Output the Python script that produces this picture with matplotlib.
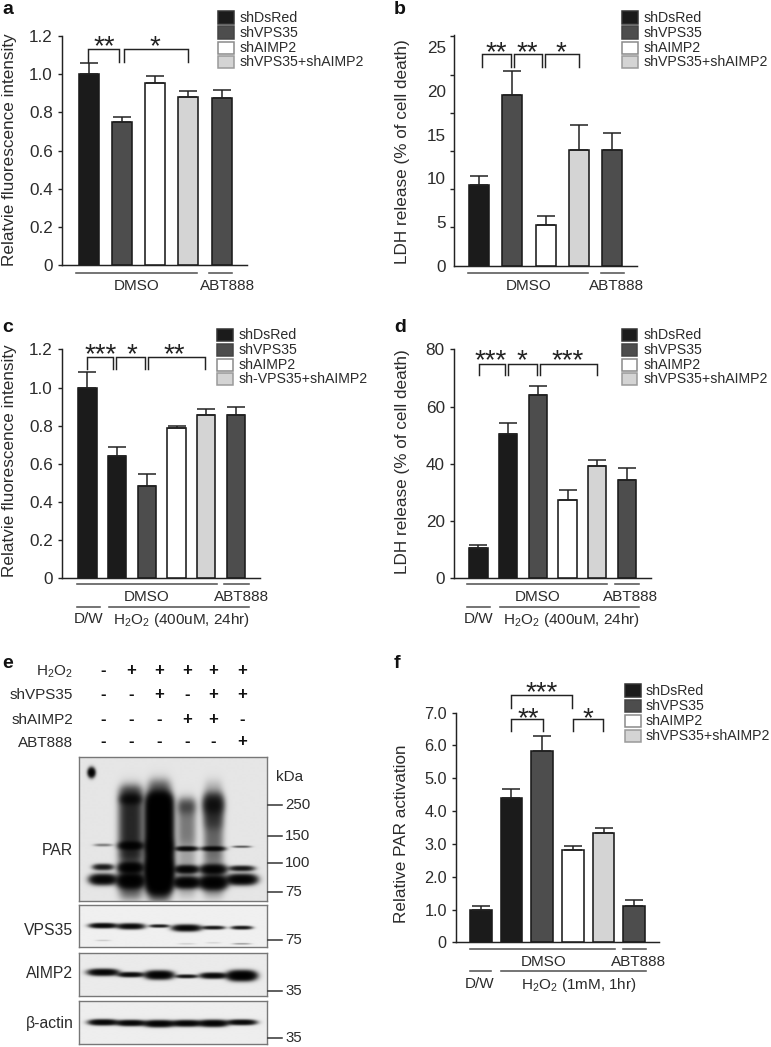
import numpy as np
import matplotlib
matplotlib.use("Agg")
import matplotlib.pyplot as plt
from matplotlib.patches import Rectangle

plt.rcParams['font.family'] = ['Liberation Sans', 'DejaVu Sans']
plt.rcParams['mathtext.fontset'] = 'custom'
plt.rcParams['mathtext.rm'] = 'Liberation Sans'
plt.rcParams['mathtext.default'] = 'regular'

W, H = 771, 1047
INK = '#2b2b2b'
BLACK, DARK, WHITE, LIGHT = '#1b1b1b', '#4d4d4d', '#ffffff', '#d4d4d4'

# ---- data -------------------------------------------------------------
a_vals = [1.00, 0.752, 0.952, 0.883, 0.876]
a_errs = [0.057, 0.026, 0.038, 0.031, 0.041]
a_cols = [BLACK, DARK, WHITE, LIGHT, DARK]

b_vals = [9.2, 19.5, 4.6, 13.3, 13.3]
b_errs = [1.05, 2.75, 1.1, 2.85, 1.9]
b_cols = [BLACK, DARK, WHITE, LIGHT, DARK]

c_vals = [1.00, 0.643, 0.486, 0.786, 0.856, 0.856]
c_errs = [0.083, 0.043, 0.061, 0.012, 0.031, 0.040]
c_cols = [BLACK, BLACK, DARK, WHITE, LIGHT, DARK]

d_vals = [10.5, 50.3, 64.2, 27.5, 39.2, 34.2]
d_errs = [1.3, 4.1, 3.1, 3.3, 2.0, 4.2]
d_cols = [BLACK, BLACK, DARK, WHITE, LIGHT, DARK]

f_vals = [1.00, 4.39, 5.83, 2.81, 3.34, 1.12]
f_errs = [0.10, 0.28, 0.46, 0.13, 0.16, 0.18]
f_cols = [BLACK, BLACK, DARK, WHITE, LIGHT, DARK]

a_ticks = [0, 0.2, 0.4, 0.6, 0.8, 1.0, 1.2]
a_ticklabels = ['0', '0.2', '0.4', '0.6', '0.8', '1.0', '1.2']
b_ticks = [0, 5, 10, 15, 20, 25]
b_ticklabels = ['0', '5', '10', '15', '20', '25']
d_ticks = [0, 20, 40, 60, 80]
d_ticklabels = ['0', '20', '40', '60', '80']
f_ticks = [0, 1, 2, 3, 4, 5, 6, 7]
f_ticklabels = ['0', '1.0', '2.0', '3.0', '4.0', '5.0', '6.0', '7.0']

legend_std = ['shDsRed', 'shVPS35', 'shAIMP2', 'shVPS35+shAIMP2']
legend_c = ['shDsRed', 'shVPS35', 'shAIMP2', 'sh-VPS35+shAIMP2']

blot_rows = ['H$_2$O$_2$', 'shVPS35', 'shAIMP2', 'ABT888']
blot_signs = [list('-+++++'), list('--+-++'), list('---++-'), list('-----+')]
blot_names = ['PAR', 'VPS35', 'AIMP2', 'β-actin']
kda_labels = ['250', '150', '100', '75', '75', '35', '35']

# blot bands: lane, y centre, half width, half height, density (3x zoom scale)
lanes = [310, 393, 478, 560, 640, 725]
par_bands = [
    (0, 615, 26, 4, .22), (0, 681, 28, 8, .75), (0, 718, 36, 13, 1.3),
    (1, 617, 33, 10, 1.0), (1, 683, 33, 13, 1.3), (1, 722, 36, 18, 1.5), (1, 478, 30, 14, .5),
    (2, 620, 36, 20, .6), (2, 690, 36, 30, 1.0),
    (3, 626, 30, 6, 1.0), (3, 688, 32, 10, 1.2), (3, 727, 36, 14, 1.4), (3, 500, 26, 22, .2),
    (4, 626, 32, 6, .9), (4, 688, 35, 12, 1.2), (4, 727, 37, 17, 1.5), (4, 495, 30, 25, .4),
    (5, 620, 26, 3, .35), (5, 685, 34, 7, .8), (5, 718, 40, 13, 1.4),
]
par_smears = [
    (1, 445, 650, 33, .62), (1, 640, 770, 34, .35),
    (2, 470, 750, 34, 2.6), (2, 425, 480, 33, .32), (2, 750, 778, 32, .28),
    (3, 480, 610, 27, .22), (3, 610, 765, 28, .12),
    (4, 465, 560, 28, .55), (4, 560, 650, 28, .28), (4, 425, 470, 27, .08), (4, 650, 765, 30, .2),
]
spot = (275, 398, 9, 12, 1.5)
vps_bands = [(0, 859, 36, 6, 1.2), (1, 861, 36, 7, 1.1), (2, 860, 26, 4, .8),
             (3, 866, 38, 8, 1.2), (4, 865, 30, 4.5, .85), (5, 865, 28, 4.5, .85),
             (0, 903, 22, 2, .07), (3, 913, 25, 2, .06), (4, 910, 22, 2, .05), (5, 913, 26, 2, .18)]
aimp_bands = [(0, 998, 40, 8, 1.3), (1, 1005, 34, 6, 1.1), (2, 1006, 37, 10, 1.5),
              (3, 1010, 29, 4.5, .9), (4, 1008, 35, 7, 1.2), (5, 1008, 38, 12, 1.7)]
actin_bands = [(0, 1148, 38, 7, 1.3), (1, 1150, 38, 7, 1.3), (2, 1152, 40, 8, 1.4),
               (3, 1151, 38, 7.5, 1.3), (4, 1151, 38, 8, 1.4), (5, 1148, 38, 6.5, 1.2)]

# -----------------------------------------------------------------------
fig = plt.figure(figsize=(W / 100, H / 100), dpi=100)
fig.patch.set_facecolor('white')


def make_ax(x0, y_top, x1, y_bot):
    return fig.add_axes([x0 / W, 1 - y_bot / H, (x1 - x0) / W, (y_bot - y_top) / H])


def panel(vals, errs, cols, ox, oy, yaxis, right, top, base, c0, dx, bw, ymax,
          ticks, ticklabels, capz, minor=None, tick_fs=12.3):
    """Geometry numbers are 3x-zoom pixels, relative to crop origin (ox, oy)."""
    x0, x1 = ox + yaxis / 3, ox + right / 3
    yt, yb = oy + top / 3, oy + base / 3
    ax = make_ax(x0, yt, x1, yb)
    ax.patch.set_alpha(0)
    ax.set_ylim(0, ymax)
    ax.set_xlim((yaxis - c0) / dx, (right - c0) / dx)
    xs = np.arange(len(vals))
    ax.bar(xs, vals, width=bw / dx, color=cols, edgecolor='#1a1a1a', linewidth=1.15,
           yerr=[np.zeros(len(vals)), errs],
           error_kw=dict(ecolor='#222222', elinewidth=1.1, capsize=capz, capthick=1.1), zorder=3)
    for s in ('top', 'right'):
        ax.spines[s].set_visible(False)
    for s in ('left', 'bottom'):
        ax.spines[s].set_linewidth(1.05)
        ax.spines[s].set_color('#222222')
    ax.set_xticks([])
    ax.set_yticks(ticks)
    ax.set_yticklabels(ticklabels, fontsize=tick_fs, color=INK)
    ax.tick_params(axis='y', length=2.6 if minor is None else 0, width=1.0, pad=4 if minor is None else 6,
                   color='#222222')
    if minor is not None:
        ax.set_yticks(minor, minor=True)
        ax.tick_params(axis='y', which='minor', length=2.6, width=1.0, color='#222222')
    return ax


panel(a_vals, a_errs, a_cols, 0, 0, 186, 742, 108, 796, 266, 99.8, 60, 1.2, a_ticks, a_ticklabels, 6.2)
b_minor = list(np.arange(0, 6) * 114.6 / 131 * 5) + [26.3]
panel(b_vals, b_errs, b_cols, 385, 0, 207, 757, 105, 797, 282, 99.8, 60, 26.41, b_ticks, b_ticklabels, 6.2, b_minor)
panel(c_vals, c_errs, c_cols, 0, 315, 186, 780, 103, 790, 262, 89.2, 55, 1.2, a_ticks, a_ticklabels, 6.2)
panel(d_vals, d_errs, d_cols, 385, 315, 207, 797, 103, 790, 280, 89.2, 55, 80, d_ticks, d_ticklabels, 6.2)
panel(f_vals, f_errs, f_cols, 400, 660, 168, 778, 158, 847, 242, 92.2, 65, 7.0, f_ticks, f_ticklabels, 6.2, tick_fs=11.7)

# ---- western blot ------------------------------------------------------
def blot(y0, y1, bands, smears=(), extra=None, bg=0.925):
    x_lo, x_hi = 238, 800
    ax = make_ax(x_lo / 3, 640 + y0 / 3, x_hi / 3, 640 + y1 / 3)
    xx, yy = np.meshgrid(np.arange(x_lo, x_hi + 1.0), np.arange(y0, y1 + 1.0))
    dens = np.zeros_like(xx)
    for lane, cy, wx, sy, amp in bands:
        cx = lanes[lane]
        dens += amp * np.exp(-(np.abs(xx - cx) / wx) ** 3) * np.exp(-((yy - cy) / sy) ** 2)
    for lane, ya, yb, wx, amp in smears:
        cx = lanes[lane]
        mask = 1 / (1 + np.exp((ya - yy) / 9)) * 1 / (1 + np.exp((yy - yb) / 9))
        dens += amp * np.exp(-(np.abs(xx - cx) / wx) ** 3) * mask
    if extra is not None:
        cx, cy, rx, ry, amp = extra
        dens += amp * np.exp(-((xx - cx) / rx) ** 2 - ((yy - cy) / ry) ** 2)
    img = bg * np.exp(-2.9 * dens)
    ax.imshow(img, cmap='gray', vmin=0, vmax=1, extent=(x_lo, x_hi, y1, y0), aspect='auto',
              interpolation='bilinear')
    ax.set_xticks([])
    ax.set_yticks([])
    for s in ax.spines.values():
        s.set_color('#777777')
        s.set_linewidth(1.0)


blot(352, 782, par_bands, par_smears, spot, bg=0.90)
blot(795, 922, vps_bands, bg=0.94)
blot(938, 1068, aimp_bands, bg=0.92)
blot(1082, 1212, actin_bands, bg=0.93)

# ---- overlay for annotation, in image pixels ----------------------------
ov = fig.add_axes([0, 0, 1, 1], zorder=10)
ov.set_xlim(0, W)
ov.set_ylim(H, 0)
ov.axis('off')
ov.patch.set_alpha(0)


def Z(ox, oy, x, y):
    return ox + x / 3, oy + y / 3


def bracket(ox, oy, xa, xb, top, bottom, stars, sx, sy):
    (x1, y1), (x2, y2) = Z(ox, oy, xa, top), Z(ox, oy, xb, bottom)
    ov.plot([x1, x1, x2, x2], [y2, y1, y1, y2], color='#222222', lw=1.05, solid_joinstyle='miter')
    px, py = Z(ox, oy, sx, sy)
    ov.text(px, py + 5.5, stars, ha='center', va='center', fontsize=20, color='#222222')


def hline(ox, oy, xa, xb, y):
    (x1, yy), (x2, _) = Z(ox, oy, xa, y), Z(ox, oy, xb, y)
    ov.plot([x1, x2], [yy, yy], color='#555555', lw=1.15)


def label(ox, oy, x, y, s, fs=11, **kw):
    px, py = Z(ox, oy, x, y)
    kw.setdefault('ha', 'center')
    kw.setdefault('va', 'center')
    ov.text(px, py, s, fontsize=fs, color=INK, **kw)


def legend(ox, oy, x0, x1, rows, tx, texts):
    cols = [BLACK, DARK, WHITE, LIGHT]
    edges = ['#333333', '#444444', '#8a8a8a', '#9a9a9a']
    for (ya, yb), c, e, t in zip(rows, cols, edges, texts):
        ov.add_patch(Rectangle(Z(ox, oy, x0, ya), (x1 - x0) / 3, (yb - ya) / 3,
                               facecolor=c, edgecolor=e, lw=1.1))
        label(ox, oy, tx, (ya + yb) / 2, t, fs=10.2, ha='left')


rows_ab = [(33, 72), (79, 118), (125, 161), (168, 204)]
rows_cd = [(41, 79), (86, 124), (131, 167), (174, 211)]
rows_f = [(73, 111), (119, 155), (164, 201), (209, 245)]
legend(0, 0, 655, 702, rows_ab, 720, legend_std)
legend(385, 0, 712, 758, rows_ab, 776, legend_std)
legend(0, 315, 650, 698, rows_cd, 715, legend_c)
legend(385, 315, 710, 757, rows_cd, 776, legend_std)
legend(400, 660, 675, 722, rows_f, 738, legend_std)

# brackets
bracket(0, 0, 265, 357, 146, 185, '**', 312, 125)
bracket(0, 0, 372, 565, 146, 185, '*', 466, 125)
bracket(385, 0, 290, 378, 163, 200, '**', 333, 143)
bracket(385, 0, 386, 472, 163, 200, '**', 426, 143)
bracket(385, 0, 481, 582, 163, 200, '*', 529, 143)
bracket(0, 315, 261, 340, 127, 162, '***', 302, 105)
bracket(0, 315, 349, 436, 127, 162, '*', 396, 105)
bracket(0, 315, 444, 615, 127, 162, '**', 523, 105)
bracket(385, 315, 281, 361, 146, 181, '***', 318, 123)
bracket(385, 315, 369, 455, 146, 181, '*', 412, 123)
bracket(385, 315, 466, 637, 146, 181, '***', 548, 123)
bracket(400, 660, 333, 515, 104, 143, '***', 425, 83)
bracket(400, 660, 333, 428, 177, 213, '**', 384, 160)
bracket(400, 660, 518, 610, 177, 213, '*', 564, 160)

# group lines and labels
for ox, oy, segs, y, dm, ab, ly in [
    (0, 0, [(228, 590), (627, 697)], 818, 411, 682, 858),
    (385, 0, [(248, 610), (648, 718)], 818, 430, 694, 858),
    (0, 315, [(230, 650), (673, 748)], 808, 440, 725, 846),
    (385, 315, [(245, 665), (690, 763)], 808, 457, 737, 846),
    (400, 660, [(210, 645), (670, 738)], 867, 430, 715, 905),
]:
    for s in segs:
        hline(ox, oy, s[0], s[1], y)
    label(ox, oy, dm, ly, 'DMSO')
    label(ox, oy, ab, ly, 'ABT888')

for ox, oy, segs, y, dw, hx, ly, txt in [
    (0, 315, [(230, 300), (328, 748)], 875, 265, 543, 912, 'H$_2$O$_2$ (400uM, 24hr)'),
    (385, 315, [(245, 315), (345, 763)], 875, 282, 558, 912, 'H$_2$O$_2$ (400uM, 24hr)'),
    (400, 660, [(210, 273), (303, 738)], 933, 240, 538, 972, 'H$_2$O$_2$ (1mM, 1hr)'),
]:
    for s in segs:
        hline(ox, oy, s[0], s[1], y)
    label(ox, oy, dw, ly, 'D/W')
    label(ox, oy, hx, ly + 2, txt)

# y labels
for x, y, t in [(10, 150, 'Relatvie fluorescence intensity'), (403, 152, 'LDH release (% of cell death)'),
                (10, 461, 'Relatvie fluorescence intensity'), (403, 462, 'LDH release (% of cell death)'),
                (401, 834, 'Relative PAR activation')]:
    ov.text(x, y, t, rotation=90, ha='center', va='center', fontsize=12.3, color=INK)

# panel letters
for x, y, t in [(2, 10, 'a'), (394, 10, 'b'), (2, 328, 'c'), (394, 328, 'd'), (2, 663, 'e'), (394, 663, 'f')]:
    ov.text(x, y, t, ha='left', va='center', fontsize=14, fontweight='bold', color='#111111')

# blot annotation
for row, ysign, signs, t in zip(range(4), [90, 162, 238, 305], blot_signs, blot_rows):
    label(0, 640, 220, ysign + (6 if row == 0 else 3), t, fs=11, ha='right')
    for lane, s in zip(lanes, signs):
        ov.text(*Z(0, 640, lane, ysign), s, ha='center', va='center', fontsize=12, fontweight='bold', color='#111111')
for y, n in zip([632, 872, 1000, 1150], blot_names):
    label(0, 640, 220, y, n, fs=11.3, ha='right')
label(0, 640, 868, 410, 'kDa', fs=11)
for y, t in zip([494, 588, 670, 755, 900, 1053, 1195], kda_labels):
    (x1, yy), (x2, _) = Z(0, 640, 803, y), Z(0, 640, 846, y)
    ov.plot([x1, x2], [yy, yy], color='#333333', lw=1.1)
    label(0, 640, 856, y, t, fs=10.8, ha='left')

fig.savefig('out.png', dpi=100)
